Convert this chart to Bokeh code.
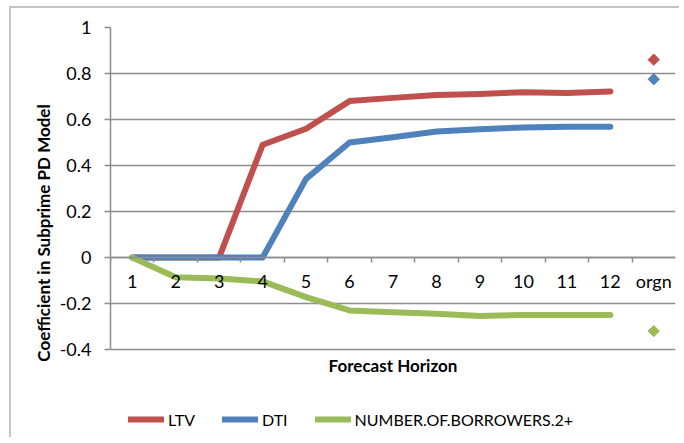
from math import pi

from bokeh.embed import file_html
from bokeh.models import FixedTicker, Label, Legend, LegendItem, LinearAxis, Range1d
from bokeh.plotting import figure
from bokeh.resources import INLINE

categories = ["1", "2", "3", "4", "5", "6", "7", "8", "9", "10", "11", "12", "orgn"]
horizon = [1, 2, 3, 4, 5, 6, 7, 8, 9, 10, 11, 12]
ltv = [0, 0, 0, 0.49, 0.56, 0.68, 0.694, 0.706, 0.711, 0.719, 0.715, 0.722]
dti = [0, 0, 0, 0, 0.342, 0.50, 0.523, 0.548, 0.558, 0.565, 0.569, 0.569]
borrowers = [0, -0.086, -0.091, -0.104, -0.172, -0.230, -0.238, -0.245, -0.254, -0.250, -0.250, -0.250]
orgn_ltv = 0.86
orgn_dti = 0.775
orgn_borrowers = -0.32
y_ticks = [-0.4, -0.2, 0, 0.2, 0.4, 0.6, 0.8, 1]
y_labels = ["-0.4", "-0.2", "0", "0.2", "0.4", "0.6", "0.8", "1"]

RED = "#c0504d"
BLUE = "#4f81bd"
GREEN = "#9bbb59"
GRID = "#8c8c8c"
FONT = "Lato"

# the frame runs down past -0.4 so that the legend and the axis title fit inside it
p = figure(width=670, height=431, output_backend="svg", toolbar_location=None,
           x_range=Range1d(0.5, 13.5), y_range=Range1d(-0.787, 1.0),
           x_axis_location=None, y_axis_location=None,
           min_border_left=99, min_border_right=6, min_border_top=19, min_border_bottom=1)
p.margin = (6, 0, 0, 9)
p.styles = {"border-left": "2px solid #c4c4c4", "border-top": "2px solid #c4c4c4"}
p.outline_line_color = None

# y axis
yaxis = LinearAxis(ticker=FixedTicker(ticks=y_ticks, minor_ticks=[]), bounds=(-0.4, 1.0))
yaxis.major_label_overrides = dict(zip(y_ticks, y_labels))
yaxis.axis_label = "Coefficient in Subprime PD Model"
yaxis.axis_label_text_font = FONT
yaxis.axis_label_text_font_style = "bold"
yaxis.axis_label_text_font_size = "17px"
yaxis.axis_label_text_color = "black"
yaxis.axis_label_standoff = 3
yaxis.major_label_text_font = FONT
yaxis.major_label_text_font_size = "18px"
yaxis.major_label_text_color = "black"
yaxis.major_label_standoff = 13
yaxis.axis_line_color = GRID
yaxis.axis_line_width = 1.5
yaxis.major_tick_line_color = GRID
yaxis.major_tick_line_width = 1.5
yaxis.major_tick_in = 0
yaxis.major_tick_out = 6
p.add_layout(yaxis, "left")

# category axis crossing at zero
xaxis = LinearAxis(fixed_location=0,
                   ticker=FixedTicker(ticks=list(range(1, len(categories) + 1)),
                                      minor_ticks=[i + 0.5 for i in range(len(categories))]))
xaxis.major_label_overrides = {i + 1: c for i, c in enumerate(categories)}
xaxis.major_label_text_font = FONT
xaxis.major_label_text_font_size = "18px"
xaxis.major_label_text_color = "black"
xaxis.major_label_standoff = 8
xaxis.major_tick_line_color = None
xaxis.major_tick_out = 0
xaxis.major_tick_in = 0
xaxis.minor_tick_line_color = GRID
xaxis.minor_tick_line_width = 1.5
xaxis.minor_tick_in = 0
xaxis.minor_tick_out = 5
xaxis.axis_line_color = GRID
xaxis.axis_line_width = 1.5
p.add_layout(xaxis, "below")

p.xgrid.visible = False
p.ygrid.ticker = FixedTicker(ticks=y_ticks)
p.ygrid.grid_line_color = GRID
p.ygrid.grid_line_width = 1.5

r_ltv = p.line(horizon, ltv, line_color=RED, line_width=6, line_cap="round", line_join="round")
r_dti = p.line(horizon, dti, line_color=BLUE, line_width=6, line_cap="round", line_join="round")
r_bor = p.line(horizon, borrowers, line_color=GREEN, line_width=6, line_cap="round", line_join="round")

orgn_x = len(categories)
p.scatter([orgn_x], [orgn_ltv], marker="square", angle=pi / 4, size=8, color=RED)
p.scatter([orgn_x], [orgn_dti], marker="square", angle=pi / 4, size=8, color=BLUE)
p.scatter([orgn_x], [orgn_borrowers], marker="square", angle=pi / 4, size=8, color=GREEN)

p.add_layout(Label(x=(len(categories) + 1) / 2, y=-0.47, text="Forecast Horizon",
                   text_font=FONT, text_font_style="bold", text_font_size="17px",
                   text_align="center", text_baseline="middle", text_color="black"))

legend = Legend(items=[LegendItem(label="LTV", renderers=[r_ltv]),
                       LegendItem(label="DTI", renderers=[r_dti]),
                       LegendItem(label="NUMBER.OF.BORROWERS.2+", renderers=[r_bor])],
                location=(18, 9), orientation="horizontal")
legend.padding = 0
legend.margin = 0
legend.spacing = 27
legend.glyph_width = 36
legend.glyph_height = 20
legend.label_standoff = 4
legend.label_text_font = FONT
legend.label_text_font_size = "16px"
legend.label_text_color = "black"
legend.border_line_color = None
legend.background_fill_alpha = 0
p.add_layout(legend, "center")

open("out.html", "w").write(file_html(p, INLINE))
